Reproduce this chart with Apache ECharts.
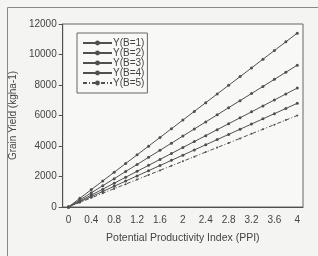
<!DOCTYPE html>
<html>
<head>
<meta charset="utf-8">
<script src="https://cdn.jsdelivr.net/npm/echarts@6/dist/echarts.min.js"></script>
<style>
  html, body { margin: 0; padding: 0; background: #f4f4f2; }
  #chart { width: 318px; height: 256px; }
</style>
</head>
<body>
<div id="chart"></div>
<script>
// PPI categories, every 0.2
var ppi = ['0','0.2','0.4','0.6','0.8','1','1.2','1.4','1.6','1.8','2','2.2','2.4','2.6','2.8','3','3.2','3.4','3.6','3.8','4'];
var yB1 = [0,570,1140,1710,2280,2850,3420,3990,4560,5130,5700,6270,6840,7410,7980,8550,9120,9690,10260,10830,11400];
var yB2 = [0,465,930,1395,1860,2325,2790,3255,3720,4185,4650,5115,5580,6045,6510,6975,7440,7905,8370,8835,9300];
var yB3 = [0,390,780,1170,1560,1950,2340,2730,3120,3510,3900,4290,4680,5070,5460,5850,6240,6630,7020,7410,7800];
var yB4 = [0,340,680,1020,1360,1700,2040,2380,2720,3060,3400,3740,4080,4420,4760,5100,5440,5780,6120,6460,6800];
var yB5 = [0,300,600,900,1200,1500,1800,2100,2400,2700,3000,3300,3600,3900,4200,4500,4800,5100,5400,5700,6000];
var seriesNames = ['Y(B=1)','Y(B=2)','Y(B=3)','Y(B=4)','Y(B=5)'];

var ink = '#505050';
var font = 'Liberation Sans';

function mkSeries(name, data, dashed) {
    return {
        name: name,
        type: 'line',
        data: data,
        symbol: 'circle',
        symbolSize: dashed ? 2 : 3,
        itemStyle: { color: ink },
        lineStyle: { color: ink, width: 1, type: dashed ? [4, 2, 1, 2] : 'solid' },
        animation: false
    };
}

var chart = echarts.init(document.getElementById('chart'));
chart.setOption({
    backgroundColor: '#f4f4f2',
    textStyle: { fontFamily: font },
    graphic: [{
        type: 'rect',
        shape: { x: 7.5, y: 7.5, width: 330, height: 270 },
        style: { fill: 'none', stroke: '#888', lineWidth: 1 },
        z: -1
    }],
    grid: {
        left: 58, top: 24, right: 15, bottom: 49,
        show: true, borderColor: '#666', borderWidth: 1, backgroundColor: '#f8f8f7'
    },
    legend: {
        data: seriesNames,
        orient: 'vertical',
        left: 77, top: 33,
        padding: [5, 3, 5, 5],
        borderColor: '#666', borderWidth: 1,
        backgroundColor: '#f8f8f7',
        itemWidth: 29, itemHeight: 6, itemGap: 0,
        itemStyle: { borderWidth: 0 },
        textStyle: { fontFamily: font, fontSize: 10, lineHeight: 10, color: '#444', padding: [0, 0, 0, -4] }
    },
    xAxis: [{
        type: 'category',
        data: ppi,
        boundaryGap: true,
        name: 'Potential Productivity Index (PPI)',
        nameLocation: 'middle',
        nameGap: 26,
        nameTextStyle: { fontFamily: font, fontSize: 10.5, color: '#444' },
        axisLine: { lineStyle: { color: ink } },
        axisTick: { alignWithLabel: true, interval: 0, length: 3, lineStyle: { color: ink } },
        axisLabel: { interval: 1, fontSize: 10, color: '#444', margin: 8 }
    }, {
        type: 'category',
        data: ppi,
        boundaryGap: true,
        position: 'bottom',
        axisLine: { show: false },
        axisTick: { alignWithLabel: true, interval: 0, inside: true, length: 3, lineStyle: { color: ink } },
        axisLabel: { show: false }
    }],
    yAxis: {
        type: 'value',
        min: 0, max: 12000, interval: 2000,
        name: 'Grain Yield (kgha-1)',
        nameLocation: 'middle',
        nameGap: 34,
        nameTextStyle: { fontFamily: font, fontSize: 10, color: '#444' },
        axisLine: { show: true, lineStyle: { color: ink } },
        axisTick: { show: true, length: 4, lineStyle: { color: ink } },
        axisLabel: { fontSize: 10, color: '#444', margin: 6, formatter: function (v) { return String(v); } },
        splitLine: { show: false }
    },
    series: [
        mkSeries(seriesNames[0], yB1, false),
        mkSeries(seriesNames[1], yB2, false),
        mkSeries(seriesNames[2], yB3, false),
        mkSeries(seriesNames[3], yB4, false),
        mkSeries(seriesNames[4], yB5, true)
    ]
});
</script>
</body>
</html>
